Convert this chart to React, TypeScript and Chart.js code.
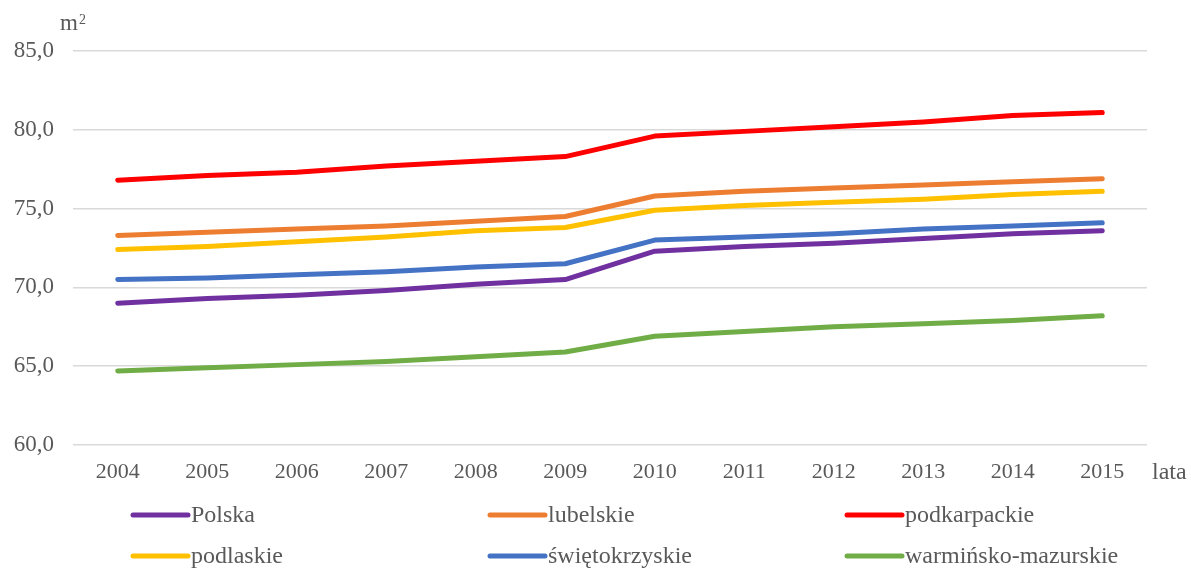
import React, { useEffect, useRef } from "react";
import { Chart, registerables } from "chart.js";

Chart.register(...registerables);

const years = ["2004", "2005", "2006", "2007", "2008", "2009", "2010", "2011", "2012", "2013", "2014", "2015"];

const polska = [69.0, 69.3, 69.5, 69.8, 70.2, 70.5, 72.3, 72.6, 72.8, 73.1, 73.4, 73.6];
const lubelskie = [73.3, 73.5, 73.7, 73.9, 74.2, 74.5, 75.8, 76.1, 76.3, 76.5, 76.7, 76.9];
const podkarpackie = [76.8, 77.1, 77.3, 77.7, 78.0, 78.3, 79.6, 79.9, 80.2, 80.5, 80.9, 81.1];
const podlaskie = [72.4, 72.6, 72.9, 73.2, 73.6, 73.8, 74.9, 75.2, 75.4, 75.6, 75.9, 76.1];
const swietokrzyskie = [70.5, 70.6, 70.8, 71.0, 71.3, 71.5, 73.0, 73.2, 73.4, 73.7, 73.9, 74.1];
const warminskoMazurskie = [64.7, 64.9, 65.1, 65.3, 65.6, 65.9, 66.9, 67.2, 67.5, 67.7, 67.9, 68.2];

const seriesNames = ["Polska", "lubelskie", "podkarpackie", "podlaskie", "świętokrzyskie", "warmińsko-mazurskie"];
const seriesValues = [polska, lubelskie, podkarpackie, podlaskie, swietokrzyskie, warminskoMazurskie];
const seriesColors = ["#7030A0", "#ED7D31", "#FF0000", "#FFC000", "#4472C4", "#70AD47"];

const yMin = 60;
const yMax = 85;
const yStep = 5;
const yUnit = "m";
const xUnit = "lata";

const FONT = "'Liberation Serif', 'Times New Roman', serif";
const TEXT = "#595959";

const extrasPlugin = {
  id: "extras",
  afterDraw(chart: any) {
    const ctx = chart.ctx;
    ctx.save();
    // axis units
    ctx.fillStyle = TEXT;
    ctx.textBaseline = "alphabetic";
    ctx.textAlign = "left";
    ctx.font = `23px ${FONT}`;
    ctx.fillText(yUnit, 60, 30);
    ctx.font = `14px ${FONT}`;
    ctx.fillText("2", 79, 24);
    ctx.font = `24px ${FONT}`;
    ctx.textBaseline = "middle";
    ctx.fillText(xUnit, 1152, 473);
    // legend grid
    const colX = [133, 490, 847];
    const rowY = [515, 556];
    chart.data.datasets.forEach((ds: any, i: number) => {
      const x = colX[i % 3];
      const y = rowY[Math.floor(i / 3)];
      ctx.strokeStyle = ds.borderColor;
      ctx.lineWidth = 5;
      ctx.lineCap = "round";
      ctx.beginPath();
      ctx.moveTo(x, y);
      ctx.lineTo(x + 55, y);
      ctx.stroke();
      ctx.fillStyle = TEXT;
      ctx.font = `24px ${FONT}`;
      ctx.textAlign = "left";
      ctx.textBaseline = "middle";
      ctx.fillText(ds.label, x + 58, y + 1);
    });
    ctx.restore();
  },
};

export default function App() {
  const ref = useRef<HTMLCanvasElement | null>(null);
  useEffect(() => {
    if (!ref.current) return;
    const chart = new Chart(ref.current, {
      type: "line",
      data: {
        labels: years,
        datasets: seriesNames.map((name, i) => ({
          label: name,
          data: seriesValues[i],
          borderColor: seriesColors[i],
          backgroundColor: seriesColors[i],
          borderWidth: 5,
          borderCapStyle: "round",
          borderJoinStyle: "round",
          pointRadius: 0,
          tension: 0,
          fill: false,
        })),
      },
      options: {
        animation: false,
        responsive: false,
        maintainAspectRatio: false,
        layout: { padding: { top: 51, right: 44, left: 0, bottom: 0 } },
        plugins: { legend: { display: false }, tooltip: { enabled: false } },
        scales: {
          x: {
            offset: true,
            grid: { display: false, drawTicks: false },
            border: { display: false },
            ticks: { color: TEXT, font: { family: FONT, size: 22 }, padding: 14, maxRotation: 0 },
            afterFit(scale: any) {
              scale.height = 125;
            },
          },
          y: {
            min: yMin,
            max: yMax,
            grid: { color: "#D9D9D9", lineWidth: 1.5, drawTicks: false },
            border: { display: false },
            ticks: {
              stepSize: yStep,
              color: TEXT,
              font: { family: FONT, size: 23 },
              padding: 19,
              callback: (v: any) => Number(v).toFixed(1).replace(".", ","),
            },
            afterFit(scale: any) {
              scale.width = 73;
            },
          },
        },
      } as any,
      plugins: [extrasPlugin],
    });
    return () => chart.destroy();
  }, []);
  return (
    <div style={{ position: "absolute", left: 0, top: 0, width: 1191, height: 570, background: "#fff" }}>
      <canvas ref={ref} width={1191} height={570} style={{ width: 1191, height: 570, display: "block" }} />
    </div>
  );
}
